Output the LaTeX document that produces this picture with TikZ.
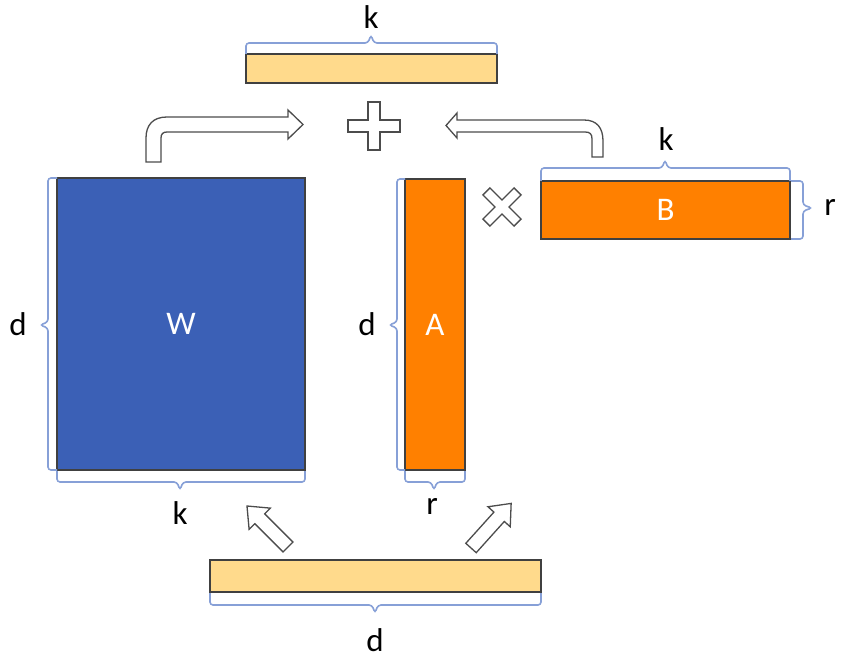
\documentclass[tikz,border=0pt]{standalone}
\usepackage{fontspec}
\setmainfont{Carlito}
\begin{document}
\begin{tikzpicture}[x=1pt,y=-1pt,
  mat/.style={draw=black!75,line width=1.1pt},
  brc/.style={draw={rgb,255:red,135;green,160;blue,215},line width=1.6pt,rounded corners=3pt},
  lbl/.style={font=\fontsize{33}{33}\selectfont,text=black},
  inlbl/.style={font=\fontsize{33}{33}\selectfont,text=white},
  blk/.style={draw=black!70,fill=white,line width=1.3pt,line join=miter}]
\useasboundingbox (0,0) rectangle (858,660);
\definecolor{wblue}{RGB}{59,96,182}
\definecolor{aorange}{RGB}{255,128,0}
\definecolor{ybar}{RGB}{255,218,140}
% matrices
\node[mat,fill=ybar,minimum width=251pt,minimum height=29pt,inner sep=0pt] (top) at (371.5,68.5) {};
\node[mat,fill=wblue,minimum width=248pt,minimum height=292pt,inner sep=0pt,inlbl] (W) at (181,324) {W};
\node[mat,fill=aorange,minimum width=60pt,minimum height=291pt,inner sep=0pt,inlbl] (A) at (435,324.5) {A};
\node[mat,fill=aorange,minimum width=249pt,minimum height=58pt,inner sep=0pt,inlbl] (B) at (665.5,210) {B};
\node[mat,fill=ybar,minimum width=331pt,minimum height=32pt,inner sep=0pt] (bot) at (375.5,576) {};
% braces
\draw[brc] (246,54) -- (246,43) -- (368,43) -- (371,35) -- (374,43) -- (497,43) -- (497,54);
\draw[brc] (57,178) -- (48,178) -- (48,322) -- (40,325) -- (48,328) -- (48,470) -- (57,470);
\draw[brc] (57,471) -- (57,482) -- (177,482) -- (180,490) -- (183,482) -- (305,482) -- (305,471);
\draw[brc] (405,179) -- (397,179) -- (397,322) -- (389,325) -- (397,328) -- (397,470) -- (405,470);
\draw[brc] (405,471) -- (405,482) -- (431,482) -- (434,490) -- (437,482) -- (465,482) -- (465,471);
\draw[brc] (541,181) -- (541,168) -- (662,168) -- (665,160) -- (668,168) -- (790,168) -- (790,181);
\draw[brc] (791,181) -- (803,181) -- (803,205) -- (812,208) -- (803,211) -- (803,239) -- (791,239);
\draw[brc] (210,593) -- (210,605) -- (372,605) -- (375,613) -- (378,605) -- (541,605) -- (541,593);
% labels
\node[lbl] (lk1) at (371,17) {k};
\node[lbl] (ld1) at (18,324) {d};
\node[lbl] (lk2) at (180,513) {k};
\node[lbl] (ld2) at (367,324) {d};
\node[lbl] (lr1) at (432,506) {r};
\node[lbl] (lk3) at (666,139) {k};
\node[lbl] (lr2) at (830,207) {r};
\node[lbl] (ld3) at (375,640) {d};
% plus
\coordinate (plus) at (374,126);
\begin{scope}[shift={(plus)}]
\draw[blk] (-6,-24) -- (6,-24) -- (6,-6) -- (26,-6) -- (26,6) -- (6,6) -- (6,24) -- (-6,24) -- (-6,6) -- (-26,6) -- (-26,-6) -- (-6,-6) -- cycle;
\end{scope}
% times
\coordinate (times) at (502,207);
\begin{scope}[shift={(times)},rotate=45]
\draw[blk] (-5,-22) -- (5,-22) -- (5,-5) -- (22,-5) -- (22,5) -- (5,5) -- (5,22) -- (-5,22) -- (-5,5) -- (-22,5) -- (-22,-5) -- (-5,-5) -- cycle;
\end{scope}
% bent arrow left
\draw[blk] (146,162) -- (146,138) .. controls (146,125) and (153,117) .. (167,117) -- (288,117) -- (288,110) -- (303,124.5) -- (288,139) -- (288,132) -- (167,132) .. controls (163,132) and (161,134) .. (161,138) -- (161,162) -- cycle;
% bent arrow right
\draw[blk] (603,157) -- (603,141) .. controls (603,128) and (597,120) .. (584,120) -- (457,120) -- (457,113) -- (446,125.5) -- (457,138) -- (457,132) -- (585,132) .. controls (590,132) and (592,134) .. (592,139) -- (592,157) -- cycle;
% diagonal arrows
\begin{scope}[shift={(288,547)},rotate=135]
\draw[blk] (0,-7) -- (40,-7) -- (40,-15) -- (58,0) -- (40,15) -- (40,7) -- (0,7) -- cycle;
\end{scope}
\begin{scope}[shift={(471,548)},rotate=48]
\draw[blk] (0,-7) -- (42,-7) -- (42,-15) -- (60,0) -- (42,15) -- (42,7) -- (0,7) -- cycle;
\end{scope}
\end{tikzpicture}
\end{document}
